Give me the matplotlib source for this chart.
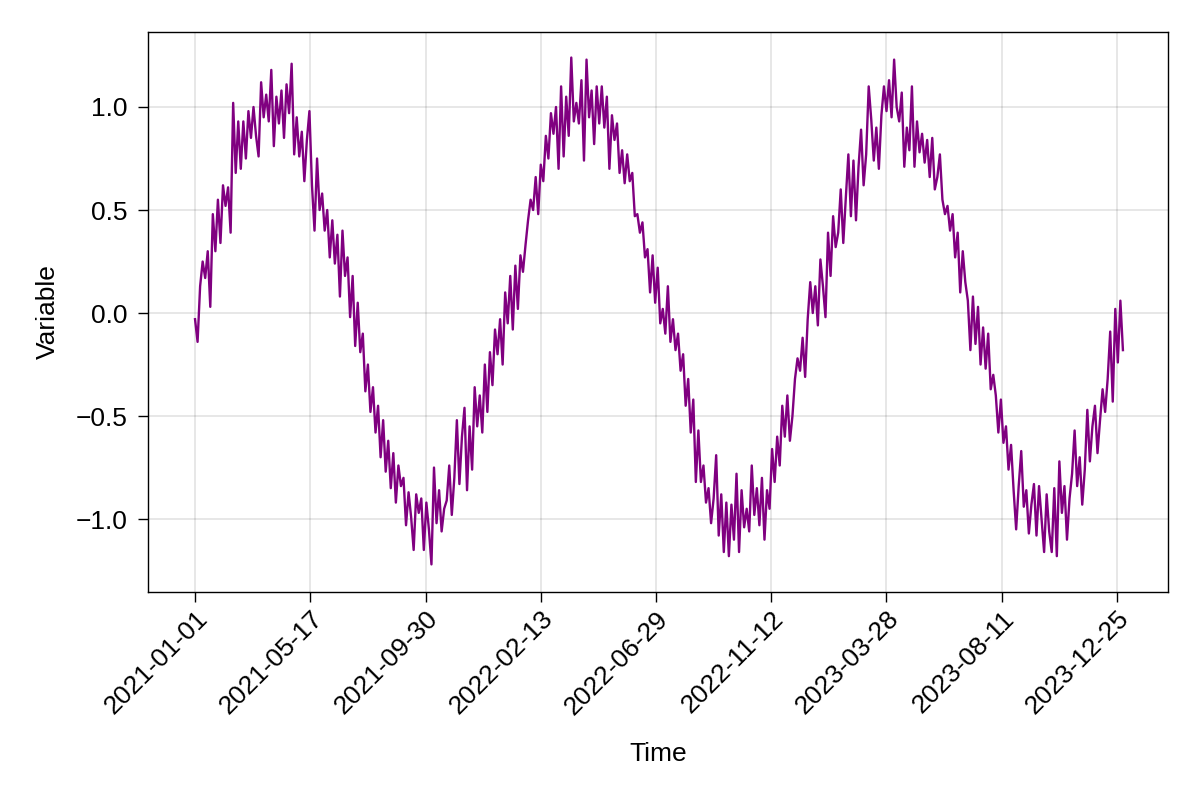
import matplotlib
matplotlib.use("Agg")
import matplotlib.pyplot as plt
import numpy as np
import pandas as pd

# ---- data (one sample every 3 days) ----
start_date = "2021-01-01"
step = "3D"

values_part1 = [
    -0.03, -0.14, 0.13, 0.25, 0.17, 0.30, 0.03, 0.48, 0.30, 0.55,
    0.34, 0.62, 0.52, 0.61, 0.39, 1.02, 0.68, 0.93, 0.70, 0.93,
    0.75, 0.98, 0.85, 1.00, 0.86, 0.76, 1.12, 0.95, 1.06, 0.93,
    1.18, 0.81, 1.05, 0.92, 1.08, 0.85, 1.11, 0.97, 1.21, 0.77,
    0.95, 0.76, 0.88, 0.64, 0.84, 0.98, 0.62, 0.40, 0.75, 0.50,
    0.58, 0.40, 0.50, 0.27, 0.45, 0.24, 0.38, 0.08, 0.40, 0.18,
    0.27, -0.02, 0.18, -0.16, 0.05, -0.19, -0.10, -0.38, -0.25, -0.48,
    -0.36, -0.58, -0.45, -0.70, -0.52, -0.77, -0.62, -0.85, -0.68, -0.92,
    -0.74, -0.84, -0.80, -1.03, -0.87, -0.99, -1.15, -0.88, -0.97, -0.90,
    -1.15, -0.92, -1.05, -1.22, -0.75, -1.02, -0.86, -1.06, -0.95, -0.91,
    -0.74, -0.98, -0.80, -0.52, -0.83, -0.60, -0.46, -0.86, -0.55, -0.76,
    -0.36, -0.55, -0.40, -0.58, -0.25, -0.48, -0.19, -0.35, -0.08, -0.20,
    -0.03, -0.25,
]
values_part2 = [
    0.10, -0.05, 0.18, -0.08, 0.23, 0.02, 0.28, 0.20,
    0.33, 0.45, 0.55, 0.50, 0.66, 0.48, 0.72, 0.64, 0.86, 0.75,
    0.97, 0.87, 1.00, 0.70, 1.10, 0.76, 1.05, 0.86, 1.24, 0.93,
    1.02, 0.92, 1.13, 0.74, 1.23, 0.95, 1.08, 0.82, 1.10, 0.92,
    1.10, 0.90, 1.05, 0.70, 0.96, 0.84, 0.92, 0.68, 0.79, 0.63,
    0.77, 0.64, 0.68, 0.47, 0.48, 0.39, 0.44, 0.27, 0.31, 0.10,
    0.28, 0.05, 0.22, -0.05, 0.02, -0.10, 0.13, -0.14, -0.03, -0.18,
    -0.10, -0.28, -0.20, -0.45, -0.32, -0.58, -0.42, -0.82, -0.57, -0.82,
    -0.74, -0.92, -0.85, -1.02, -0.90, -0.69, -1.08, -0.88, -1.16, -0.92,
    -1.18, -0.93, -1.10, -0.78, -1.16, -0.86, -1.04, -0.95, -1.06, -0.74,
    -0.98, -0.85, -1.03, -0.80, -1.10, -0.86, -0.95, -0.66, -0.82, -0.60,
    -0.74, -0.45, -0.60, -0.40, -0.62, -0.50, -0.32, -0.22, -0.28, -0.12,
    -0.31, -0.03, 0.15, 0.0,
]
values_part3 = [
    0.13, -0.06, 0.26, 0.13, -0.02, 0.39,
    0.18, 0.47, 0.32, 0.39, 0.60, 0.34, 0.56, 0.77, 0.47, 0.74,
    0.45, 0.71, 0.89, 0.62, 0.77, 1.10, 0.94, 0.74, 0.90, 0.70,
    0.96, 1.10, 0.98, 1.13, 0.95, 1.23, 1.00, 0.93, 1.07, 0.71,
    0.90, 0.79, 1.10, 0.71, 0.93, 0.78, 0.87, 0.73, 0.84, 0.66,
    0.85, 0.60, 0.66, 0.77, 0.55, 0.48, 0.52, 0.40, 0.48, 0.27,
    0.39, 0.10, 0.30, 0.15, 0.06, -0.18, 0.08, -0.15, 0.03, -0.25,
    -0.07, -0.27, -0.10, -0.37, -0.30, -0.40, -0.58, -0.42, -0.63, -0.55,
    -0.76, -0.64, -0.86, -1.05, -0.84, -0.67, -0.94, -0.86, -1.07, -0.93,
    -0.83, -1.08, -0.84, -1.00, -1.16, -0.88, -1.06, -1.16, -0.85, -1.18,
    -0.72, -0.97, -0.84, -1.10, -0.90, -0.78, -0.57, -0.84, -0.70, -0.93,
    -0.76, -0.47, -0.72, -0.55, -0.45, -0.68, -0.52, -0.37, -0.48, -0.32,
    -0.09, -0.43, 0.02, -0.24, 0.06, -0.18,
]

x_tick_labels = ["2021-01-01", "2021-05-17", "2021-09-30", "2022-02-13",
                 "2022-06-29", "2022-11-12", "2023-03-28", "2023-08-11",
                 "2023-12-25"]
y_ticks = [-1.0, -0.5, 0.0, 0.5, 1.0]
y_tick_labels = ["\u22121.0", "\u22120.5", "0.0", "0.5", "1.0"]

values = values_part1 + values_part2 + values_part3
dates = pd.date_range(start_date, periods=len(values), freq=step)
tick_dates = pd.to_datetime(x_tick_labels)

# ---- style ----
plt.rcParams["font.family"] = ["Liberation Sans", "DejaVu Sans"]
FS = 19

fig = plt.figure(figsize=(12, 8), dpi=100)
ax = fig.add_axes([148 / 1200, 1 - 592 / 800, (1168 - 148) / 1200, (592 - 32) / 800])

ax.plot(dates, values, color="purple", linewidth=1.7, zorder=3)

t0 = pd.Timestamp(start_date)
ax.set_xlim(t0 - pd.Timedelta(days=55.5), t0 + pd.Timedelta(days=1148.2))
ax.set_ylim(-1.354, 1.364)

ax.set_xticks(tick_dates)
ax.set_xticklabels(x_tick_labels, rotation=45, ha="right", va="top",
                   rotation_mode="anchor", fontsize=FS)
ax.set_yticks(y_ticks)
ax.set_yticklabels(y_tick_labels, fontsize=FS)

ax.tick_params(axis="both", direction="out", length=7.5, width=1.0,
               color="black")
ax.tick_params(axis="x", pad=3)
ax.tick_params(axis="y", pad=7)

ax.grid(True, color="black", alpha=0.12, linewidth=1.1)
ax.set_axisbelow(True)

for s in ax.spines.values():
    s.set_linewidth(1.0)
    s.set_color("black")

ax.set_xlabel("Time", fontsize=FS)
ax.set_ylabel("Variable", fontsize=FS)
ax.xaxis.set_label_coords(0.5, (592 - 754) / 560)
ax.xaxis.label.set_va("center")
ax.yaxis.set_label_coords((48 - 148) / 1020, 0.5)
ax.yaxis.label.set_va("center")

fig.savefig("out.png", dpi=100, facecolor="white")
